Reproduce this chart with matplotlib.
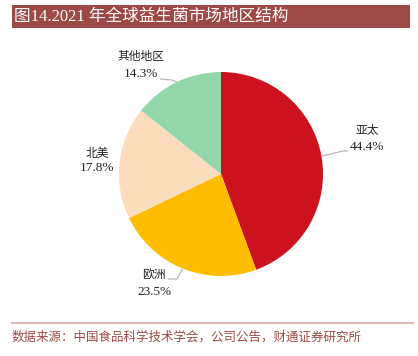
import matplotlib
matplotlib.use("Agg")
import matplotlib.pyplot as plt
from matplotlib.patches import Rectangle
import numpy as np

# ---- data ----
regions = ["亚太", "欧洲", "北美", "其他地区"]
shares = [44.4, 23.5, 17.8, 14.3]
colors = ["#cc111f", "#ffbd00", "#fbdcbd", "#92d6aa"]
title = "图14.2021 年全球益生菌市场地区结构"
source = "数据来源：中国食品科学技术学会，公司公告，财通证券研究所"

W, H = 418, 356
fig = plt.figure(figsize=(W / 100, H / 100), dpi=100)
ax = fig.add_axes([0, 0, 1, 1])

def py(y):  # pixel-from-top to data y
    return H - y

cjk = ["Noto Sans CJK SC", "DejaVu Sans"]
mixed = ["Liberation Serif", "Noto Sans CJK SC"]

# pie
cx, cy, R = 221, py(174), 102
wedges, _ = ax.pie(shares, colors=colors, startangle=90, counterclock=False,
                   center=(cx, cy), radius=R, frame=True,
                   wedgeprops=dict(linewidth=0))
ax.set_xlim(0, W)
ax.set_ylim(0, H)
ax.set_aspect("equal")
ax.axis("off")

# title bar
ax.add_patch(Rectangle((12, py(28)), 398, 23, facecolor="#9d4a47", edgecolor="none"))
ax.text(14, py(16.5), title, color="white", fontsize=12, va="center", ha="left",
        family=["Liberation Serif", "Noto Sans CJK SC"])

# labels: (label center x, name y px, value y px, elbow px, line end px or None)
label_pos = {
    "亚太": (367, 130, 147, (343, 151), (348, 151)),
    "欧洲": (154, 275, 292, (177, 279), (168, 279)),
    "北美": (97, 153, 168, None, None),
    "其他地区": (141, 56, 74, (172, 80), (160, 79)),
}
for w, name, val in zip(wedges, regions, shares):
    lx, ny, vy, elbow, lend = label_pos[name]
    ax.text(lx, py(ny), name, fontsize=8.5, ha="center", va="center",
            color="#222222", family=cjk)
    ax.text(lx, py(vy), f"{val:.1f}%", fontsize=9.5, ha="center", va="center",
            color="#222222", family=mixed)
    if elbow is not None:
        ang = np.deg2rad((w.theta1 + w.theta2) / 2)
        px0 = cx + R * np.cos(ang)
        py0 = cy + R * np.sin(ang)
        ax.plot([px0, elbow[0], lend[0]], [py0, py(elbow[1]), py(lend[1])],
                color="#b8b8b8", lw=0.9, solid_capstyle="butt")

# bottom rule and source
ax.plot([12, 413], [py(323), py(323)], color="#d9a9a7", lw=1.2)
ax.text(12, py(337), source, fontsize=9, color="#9d4a47", ha="left", va="center",
        family=cjk)

fig.savefig("out.png", dpi=100)
